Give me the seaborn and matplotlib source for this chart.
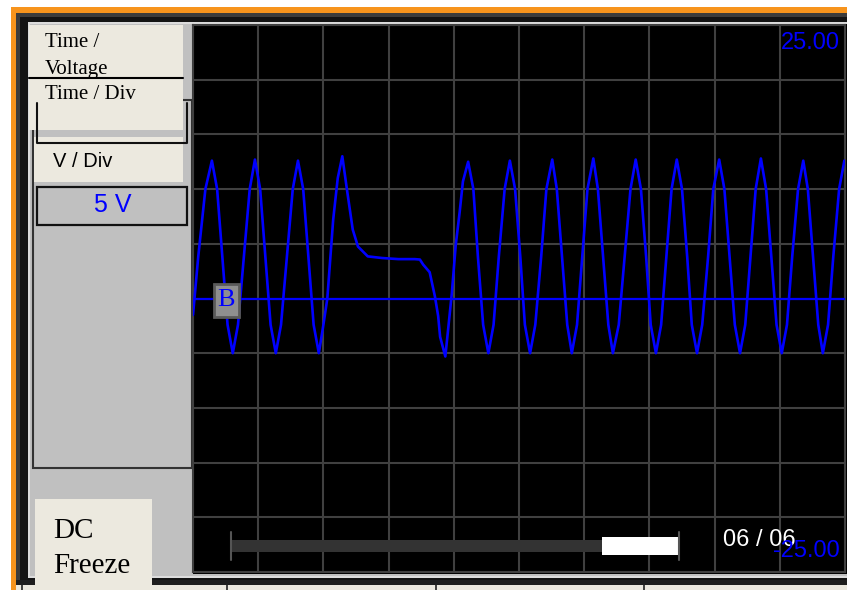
import numpy as np
import pandas as pd
import matplotlib
matplotlib.use("Agg")
import matplotlib.pyplot as plt
from matplotlib.patches import Rectangle
import seaborn as sns

# channel B trace: time in divisions, volts
trace_t = [0.00, 0.08, 0.19, 0.29,
           0.37, 0.45, 0.53, 0.61, 0.69, 0.78, 0.87, 0.95,
           1.03, 1.11, 1.19, 1.27, 1.35, 1.44, 1.53, 1.61,
           1.69, 1.77, 1.85, 1.93, 2.00, 2.06, 2.15, 2.22, 2.29,
           2.36, 2.45, 2.53, 2.68, 2.90, 3.15, 3.40, 3.48, 3.53, 3.63,
           3.71, 3.76, 3.79, 3.87, 3.91, 3.97, 4.03, 4.09, 4.14, 4.22,
           4.30, 4.37, 4.45, 4.53, 4.61, 4.69, 4.78, 4.86,
           4.94, 5.02, 5.09, 5.17, 5.25, 5.34, 5.42, 5.51,
           5.58, 5.66, 5.74, 5.81, 5.89, 5.97, 6.05, 6.14,
           6.21, 6.29, 6.37, 6.44, 6.53, 6.62, 6.71, 6.79,
           6.87, 6.95, 7.02, 7.10, 7.18, 7.26, 7.34, 7.42,
           7.50, 7.58, 7.65, 7.73, 7.81, 7.90, 7.98, 8.07,
           8.15, 8.23, 8.31, 8.39, 8.47, 8.55, 8.63, 8.71,
           8.79, 8.87, 8.95, 9.03, 9.11, 9.19, 9.28, 9.36,
           9.43, 9.51, 9.59, 9.66, 9.74, 9.82, 9.91, 9.99]
trace_v = [-1.5, 3.8, 10.0, 12.6,
           10.0, 3.8, -2.4, -5.0, -2.4, 3.8, 10.0, 12.7,
           10.0, 3.8, -2.4, -5.0, -2.4, 3.8, 10.0, 12.6,
           10.0, 3.8, -2.4, -5.0, -2.4, 0.0, 7.2, 11.0, 13.0,
           10.0, 6.3, 4.75, 3.85, 3.7, 3.6, 3.6, 3.56, 3.1, 2.4,
           0.2, -1.6, -3.5, -5.3, -3.0, 0.5, 4.9, 7.9, 10.7, 12.5,
           10.0, 3.8, -2.4, -5.0, -2.4, 3.8, 10.0, 12.6,
           10.0, 3.8, -2.4, -5.0, -2.4, 3.8, 10.0, 12.7,
           10.0, 3.8, -2.4, -5.0, -2.4, 3.8, 10.0, 12.8,
           10.0, 3.8, -2.4, -5.0, -2.4, 3.8, 10.0, 12.7,
           10.0, 3.8, -2.4, -5.0, -2.4, 3.8, 10.0, 12.7,
           10.0, 3.8, -2.4, -5.0, -2.4, 3.8, 10.0, 12.7,
           10.0, 3.8, -2.4, -5.0, -2.4, 3.8, 10.0, 12.8,
           10.0, 3.8, -2.4, -5.0, -2.4, 3.8, 10.0, 12.6,
           10.0, 3.8, -2.4, -5.0, -2.4, 3.8, 10.0, 12.6]

volts_per_div = 5
n_div = 10
top_label = "25.00"
bottom_label = "-25.00"
vdiv_label = "5 V"
page_label = "06 / 06"
channel = "B"

df = pd.DataFrame({"t": trace_t, "v": trace_v})

sns.set_style("dark")
BLUE = "#0000ff"
GRID = "#404040"
BEIGE = "#ece9df"
PANEL = "#c0c0c0"
ORANGE = "#f7941d"
serif = ["Liberation Serif", "DejaVu Serif"]
sans = ["Liberation Sans", "DejaVu Sans"]

W, H = 847, 590
fig = plt.figure(figsize=(W / 100, H / 100), dpi=100, facecolor="white")


def px_axes(z):
    ax = fig.add_axes([0, 0, 1, 1], zorder=z)
    ax.set_xlim(0, W)
    ax.set_ylim(H, 0)
    ax.axis("off")
    ax.patch.set_alpha(0)
    return ax


def box(ax, x, y, w, h, **kw):
    ax.add_patch(Rectangle((x, y), w, h, **kw))


# window chrome behind the screen
bg = px_axes(0)
box(bg, 11, 7, W - 11, H - 7, fc=ORANGE, lw=0)
box(bg, 16, 13, W - 16, H - 13, fc="#3c3c3c", lw=0)
box(bg, 20, 17, W - 20, 563, fc="#141414", lw=0)
box(bg, 28, 22, W - 28, 556, fc="#dcdcdc", lw=0)
box(bg, 30, 24, W - 30, 552, fc=PANEL, lw=0)
box(bg, 193, 24, W - 193, 550, fc="black", lw=0)
box(bg, 16, 580, W - 16, 5, fc="#1e1e1e", lw=0)
box(bg, 16, 585, W - 16, 5, fc=BEIGE, lw=0)
for xd in [22, 227, 436, 644]:
    bg.plot([xd, xd], [585, 590], color="#222222", lw=1.2)

# left control panel
box(bg, 33, 100, 159, 368, fc="none", ec="#333333", lw=1.5)
box(bg, 29, 25, 154, 52, fc=BEIGE, lw=0)
bg.plot([29, 183], [78, 78], color="black", lw=1.5)
box(bg, 29, 79, 154, 51, fc=BEIGE, lw=0)
bg.plot([37, 37, 187, 187], [103, 143, 143, 103], color="#111111", lw=1.5)
box(bg, 34, 137, 149, 45, fc=BEIGE, lw=0)
box(bg, 37, 187, 150, 38, fc=PANEL, ec="#111111", lw=1.6)
box(bg, 35, 499, 117, 91, fc=BEIGE, lw=0)

bg.text(45, 47, "Time /", family=serif, fontsize=15, color="black")
bg.text(45, 74, "Voltage", family=serif, fontsize=15, color="black")
bg.text(45, 99, "Time / Div", family=serif, fontsize=15, color="black")
bg.text(53, 167, "V / Div", family=sans, fontsize=14.5, color="black")
bg.text(113, 205, vdiv_label, family=sans, fontsize=18, color=BLUE,
        ha="center", va="center")
bg.text(53, 538, "DC", family=serif, fontsize=21, color="black")
bg.text(53, 573, "Freeze", family=serif, fontsize=21, color="black")

# the scope screen
ax = fig.add_axes([193 / W, (H - 572) / H, 652 / W, 547 / H], zorder=1)
ax.set_facecolor("black")
lim = volts_per_div * n_div / 2
ax.set_xlim(0, n_div)
ax.set_ylim(-lim, lim)
ax.set_xticks(np.arange(0, n_div + 1))
ax.set_yticks(np.arange(-lim, lim + 1, volts_per_div))
ax.grid(True, color=GRID, lw=1.5)
ax.set_axisbelow(True)
ax.tick_params(length=0, labelbottom=False, labelleft=False)
for s in ax.spines.values():
    s.set_color(GRID)
    s.set_linewidth(1.5)
ax.axhline(0, color=BLUE, lw=1.6, zorder=3)
sns.lineplot(data=df, x="t", y="v", sort=False, estimator=None,
             color=BLUE, linewidth=1.9, ax=ax, zorder=4)
ax.set_xlabel("")
ax.set_ylabel("")

# channel marker at ground level
ax.add_patch(Rectangle((0.32, -1.65), 0.38, 2.93, fc="#8f8f8f", ec="#5a5a5a",
                       lw=2, zorder=6))
ax.text(0.51, -0.15, channel, family=serif, fontsize=19, color=BLUE,
        ha="center", va="center", zorder=7)

# overlay: range labels and page bar
ov = px_axes(2)
ov.text(840, 43, top_label, family=sans, fontsize=17, color=BLUE,
        ha="right", va="center")
box(ov, 231, 540, 371, 12, fc="#333333", lw=0)
box(ov, 602, 537, 76, 18, fc="white", lw=0)
ov.plot([231, 231], [532, 560], color="#555555", lw=1.5)
ov.plot([679, 679], [532, 560], color="#555555", lw=1.5)
ov.text(723, 540, page_label, family=sans, fontsize=17, color="white",
        ha="left", va="center")
ov.text(840, 551, bottom_label, family=sans, fontsize=17, color=BLUE,
        ha="right", va="center")

fig.savefig("out.png", dpi=100)
